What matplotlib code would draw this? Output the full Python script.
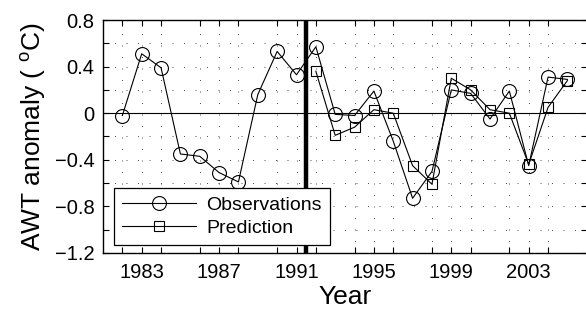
import matplotlib
matplotlib.use('Agg')
import matplotlib.pyplot as plt
import numpy as np
from matplotlib.ticker import MultipleLocator, FixedLocator, FixedFormatter

plt.rcParams['font.family'] = ['Liberation Sans', 'DejaVu Sans']
plt.rcParams['mathtext.fontset'] = 'custom'
plt.rcParams['mathtext.rm'] = 'Liberation Sans'

# observed AWT anomaly, 1982-2005
obs_years = list(range(1982, 2006))
obs_vals = [-0.02, 0.51, 0.39, -0.35, -0.37, -0.51, -0.59, 0.16, 0.53, 0.33,
            0.57, -0.01, -0.02, 0.19, -0.24, -0.73, -0.50, 0.20, 0.17, -0.05,
            0.19, -0.45, 0.31, 0.29]

# predicted, 1992-2005
pred_years = list(range(1992, 2006))
pred_vals = [0.36, -0.19, -0.12, 0.03, 0.00, -0.45, -0.61, 0.30, 0.20, 0.03,
             0.00, -0.44, 0.05, 0.28]

split_year = 1991.5
x_labels = ['1983', '1987', '1991', '1995', '1999', '2003']
y_labels = ['\u22121.2', '\u22120.8', '\u22120.4', '0', '0.4', '0.8']

fig = plt.figure(figsize=(5.86, 3.13), dpi=100)
ax = fig.add_axes([103/586, 1 - 253/313, 483.75/586, 233/313])

ax.plot(obs_years, obs_vals, color='black', lw=0.8, marker='o', ms=10,
        mfc='none', mec='black', mew=0.8, label='Observations')
ax.plot(pred_years, pred_vals, color='black', lw=0.8, marker='s', ms=7.5,
        mfc='none', mec='black', mew=0.8, label='Prediction')

ax.axhline(0, color='black', lw=0.8, zorder=1)
ax.axvline(split_year, color='black', lw=3.2, zorder=3)

ax.set_xlim(1981, 2006)
ax.set_ylim(-1.2, 0.8)

ax.xaxis.set_major_locator(FixedLocator([int(s) for s in x_labels]))
ax.xaxis.set_major_formatter(FixedFormatter(x_labels))
ax.xaxis.set_minor_locator(MultipleLocator(2))
ax.yaxis.set_major_locator(FixedLocator([-1.2, -0.8, -0.4, 0, 0.4, 0.8]))
ax.yaxis.set_major_formatter(FixedFormatter(y_labels))
ax.yaxis.set_minor_locator(MultipleLocator(0.2))

ax.tick_params(which='both', direction='in', top=True, right=True, width=0.8)
ax.tick_params(which='major', length=4, labelsize=14.5)
ax.tick_params(axis='x', which='major', pad=7)
ax.tick_params(axis='y', which='major', pad=6)
ax.tick_params(which='minor', length=4)

# sparse dotted grid, one dot every ~11 px
ax.grid(True, which='both', color='#333333', lw=0.6, linestyle=(0, (1.2, 12.6)))
ax.set_axisbelow(True)

for s in ax.spines.values():
    s.set_linewidth(1.0)

ax.set_xlabel('Year', fontsize=19, labelpad=2)
ax.set_ylabel('AWT anomaly ( $^{\\mathrm{o}}$C)', fontsize=19, labelpad=5)

leg = ax.legend(loc='lower left', bbox_to_anchor=(0.022, 0.033), fontsize=14,
                handlelength=3.8, handletextpad=0.5, frameon=True,
                fancybox=False, edgecolor='black', framealpha=1,
                borderpad=0.45, labelspacing=0.25, borderaxespad=0)
leg.get_frame().set_linewidth(0.9)

fig.savefig('out.png', dpi=100)
